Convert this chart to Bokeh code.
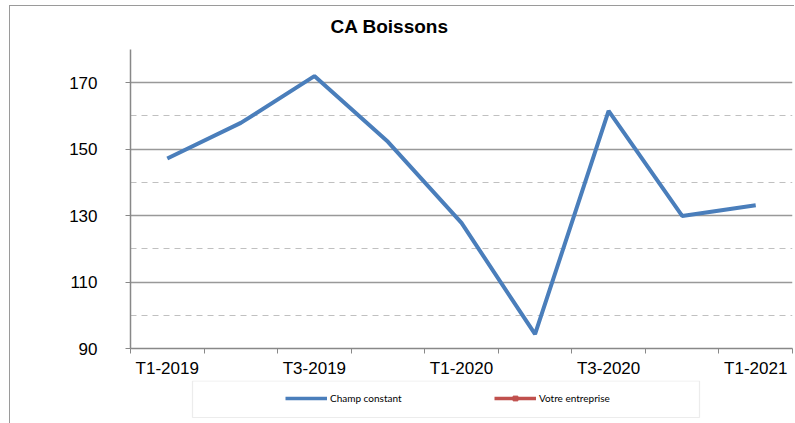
from bokeh.plotting import figure
from bokeh.layouts import column
from bokeh.models import (Range1d, FixedTicker, Legend, LegendItem, ColumnDataSource,
                          BoxAnnotation)
from bokeh.embed import file_html
from bokeh.resources import INLINE

categories = ["T1-2019", "T2-2019", "T3-2019", "T4-2019", "T1-2020",
              "T2-2020", "T3-2020", "T4-2020", "T1-2021"]
champ_constant = [147.2, 157.9, 172.0, 152.2, 127.8, 94.3, 161.5, 129.9, 133.1]
votre_entreprise = [float("nan")]   # no values shown for this series
y_major_ticks = [90, 110, 130, 150, 170]
y_minor_ticks = [100, 120, 140, 160, 180]
label_step = 2

n = len(categories)
xs = [i + 0.5 for i in range(n)]

W = 784
p = figure(width=W, height=380, output_backend="svg", toolbar_location=None,
           x_range=Range1d(0, n), y_range=Range1d(90, 180),
           min_border_left=120, min_border_right=2, min_border_top=49,
           min_border_bottom=30)
p.styles = {"margin-top": "-6px"}
p.outline_line_color = None
p.background_fill_color = "white"
p.border_fill_alpha = 0

p.title.text = "CA Boissons"
p.title.align = "left"
p.title.offset = 200
p.title.text_font = "Liberation Sans"
p.title.text_font_style = "bold"
p.title.text_font_size = "19px"
p.title.text_color = "black"
p.title.standoff = 26

# x axis: labels at category centres, tick marks at category boundaries
p.xaxis.ticker = FixedTicker(ticks=[xs[i] for i in range(0, n, label_step)],
                             minor_ticks=list(range(n + 1)))
p.xaxis.major_label_overrides = {xs[i]: categories[i] for i in range(0, n, label_step)}
p.xaxis.major_tick_line_color = None
p.xaxis.major_tick_out = 5
p.xaxis.major_tick_in = 0
p.xaxis.minor_tick_line_color = "#888888"
p.xaxis.minor_tick_out = 5
p.xaxis.minor_tick_in = 0
p.xaxis.axis_line_color = "#888888"
p.xaxis.axis_line_width = 1.5
p.xaxis.major_label_standoff = 5
p.xaxis.major_label_text_font = "Liberation Sans"
p.xaxis.major_label_text_font_size = "17px"
p.xaxis.major_label_text_color = "black"
p.xgrid.visible = False

p.yaxis.ticker = FixedTicker(ticks=y_major_ticks, minor_ticks=y_minor_ticks)
p.yaxis.major_tick_out = 5
p.yaxis.major_tick_in = 0
p.yaxis.major_tick_line_color = "#888888"
p.yaxis.minor_tick_line_color = None
p.yaxis.axis_line_color = "#888888"
p.yaxis.axis_line_width = 1.5
p.yaxis.major_label_standoff = 28
p.yaxis.major_label_text_font = "Liberation Sans"
p.yaxis.major_label_text_font_size = "17px"
p.yaxis.major_label_text_color = "black"

p.ygrid.grid_line_color = "#999999"
p.ygrid.grid_line_width = 1.5
p.ygrid.minor_grid_line_color = "#c0c0c0"
p.ygrid.minor_grid_line_width = 1.2
p.ygrid.minor_grid_line_dash = "6 5"

src = ColumnDataSource(dict(x=xs, y=champ_constant))
r1 = p.line("x", "y", source=src, line_width=4, line_color="#4A7EBB")

# legend strip (separate figure, no axes; its frame is aligned with the chart frame)
H2 = 43
FW = 662
p2 = figure(width=W, height=H2, output_backend="svg", toolbar_location=None,
            x_range=Range1d(0, FW), y_range=Range1d(H2, 0),
            x_axis_location=None, y_axis_location=None,
            min_border_left=0, min_border_right=0, min_border_top=0,
            min_border_bottom=0)
p2.grid.visible = False
p2.outline_line_color = None
p2.background_fill_color = "white"
p2.border_fill_color = "white"

src1 = ColumnDataSource(dict(x=[float("nan")], y=[float("nan")]))
lg1 = p2.line("x", "y", source=src1, line_width=3.5, line_color="#4A7EBB")
src2 = ColumnDataSource(dict(x=[float("nan")] * len(votre_entreprise), y=votre_entreprise))
r2l = p2.line("x", "y", source=src2, line_width=3.5, line_color="#C0504D")
r2s = p2.scatter("x", "y", source=src2, marker="square", size=9,
                 fill_color="#C0504D", line_color="#C0504D")

p2.add_layout(BoxAnnotation(left=62, right=569, top=0.5, bottom=37,
                            fill_alpha=0, line_color="#bfbfbf", line_width=1.2))

legend = Legend(items=[LegendItem(label="Champ constant", renderers=[lg1], index=0),
                       LegendItem(label="Votre entreprise", renderers=[r2l, r2s], index=0)],
                location=(155, 19), orientation="horizontal", padding=0,
                spacing=84, glyph_width=42, glyph_height=12, label_standoff=3,
                label_width=80, label_height=12, margin=0,
                label_text_font="Lato", label_text_font_size="10px",
                label_text_color="black",
                border_line_color=None, background_fill_alpha=0)
p2.add_layout(legend)

layout = column(p, p2, spacing=0)
layout.styles = {"margin-left": "9px", "margin-top": "5px",
                 "border-top": "1px solid #9a9a9a", "border-left": "1px solid #9a9a9a"}

open("out.html", "w").write(file_html(layout, INLINE))
